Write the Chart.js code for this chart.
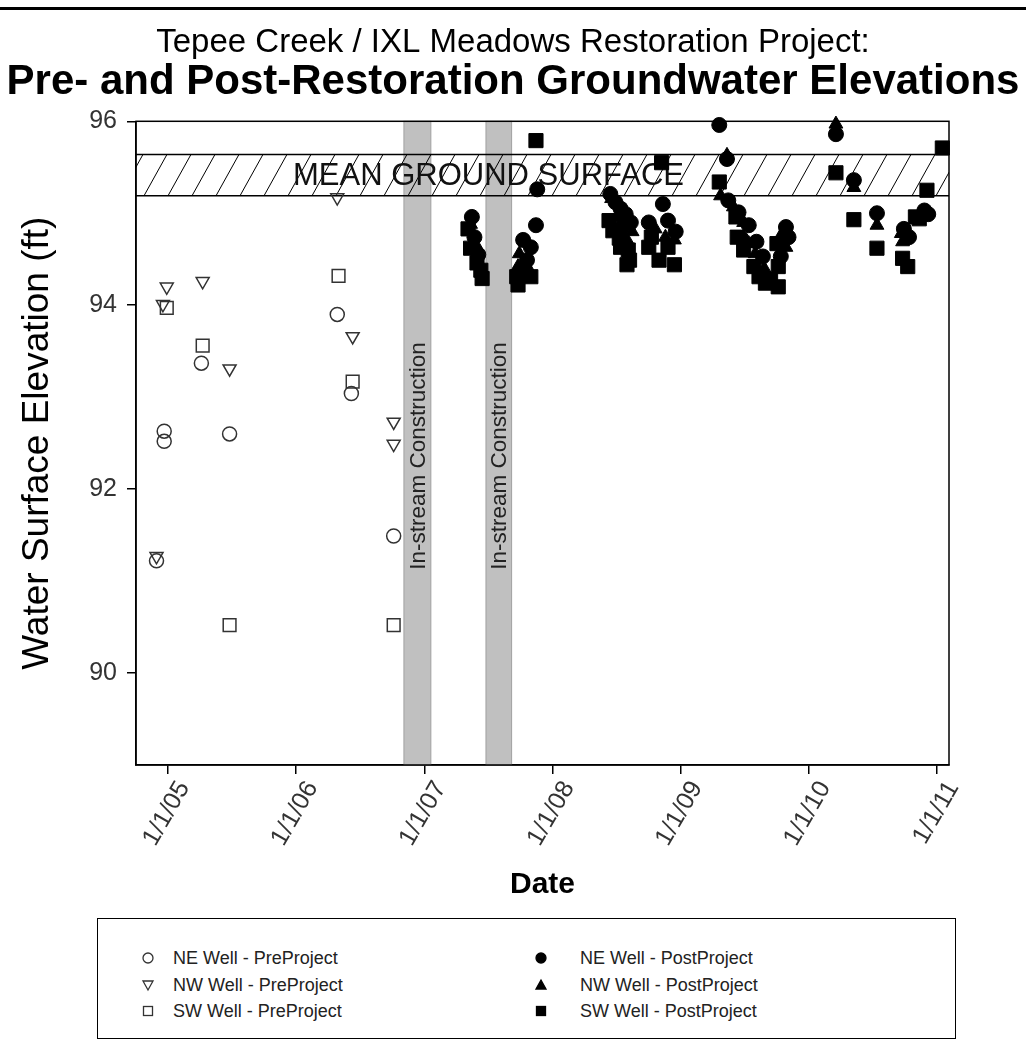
<!DOCTYPE html>
<html>
<head>
<meta charset="utf-8">
<script src="https://cdn.jsdelivr.net/npm/chart.js@4.4.0/dist/chart.umd.min.js"></script>
<style>
  body { margin: 0; background: #fff; font-family: "Liberation Sans", Arial, sans-serif; }
  #wrap { position: relative; width: 1026px; height: 1045px; overflow: hidden; }
  #topline { position: absolute; left: 0; top: 7px; width: 1026px; border-top: 3px solid #000; }
  #chart { position: absolute; left: 0; top: 0; }
  #legend { position: absolute; left: 97px; top: 918px; width: 859px; height: 121px;
            border: 1.5px solid #000; box-sizing: border-box; }
  .item { position: absolute; font-size: 18px; color: #222; line-height: 20px; white-space: nowrap; }
  .item svg { position: absolute; top: 2px; }
</style>
</head>
<body>
<div id="wrap">
  <div id="topline"></div>
  <canvas id="chart" width="1026" height="910"></canvas>
  <div id="legend"></div>
</div>
<script>
// dates are decimal years, elevations in ft
const nePreDate = [2004.91, 2004.97, 2004.97, 2005.26, 2005.48, 2006.32, 2006.43, 2006.76];
const nePreElev = [91.22, 92.63, 92.52, 93.37, 92.60, 93.90, 93.04, 91.49];
const nwPreDate = [2004.91, 2004.96, 2004.99, 2005.27, 2005.48, 2006.32, 2006.44, 2006.76, 2006.76];
const nwPreElev = [91.27, 94.01, 94.20, 94.26, 93.31, 95.17, 93.66, 92.73, 92.49];
const swPreDate = [2004.99, 2005.27, 2005.48, 2006.33, 2006.44, 2006.76];
const swPreElev = [93.97, 93.56, 90.52, 94.32, 93.17, 90.52];

const nePostDate = [2007.37, 2007.39, 2007.42, 2007.77, 2007.80, 2007.83, 2007.87, 2007.88,
  2008.45, 2008.49, 2008.53, 2008.57, 2008.61, 2008.54, 2008.86, 2008.75, 2008.90, 2008.96,
  2009.30, 2009.36, 2009.37, 2009.45, 2009.53, 2009.47, 2009.59, 2009.64, 2009.82, 2009.84, 2009.78,
  2010.21, 2010.35, 2010.53, 2010.74, 2010.78, 2010.90, 2010.93];
const nePostElev = [94.96, 94.74, 94.55, 94.71, 94.49, 94.63, 94.87, 95.26,
  95.21, 95.12, 95.05, 94.99, 94.90, 94.85, 95.10, 94.90, 94.92, 94.80,
  95.96, 95.59, 95.14, 95.01, 94.87, 94.73, 94.69, 94.53, 94.85, 94.74, 94.53,
  95.86, 95.36, 95.00, 94.83, 94.74, 95.03, 94.99];
const nwPostDate = [2007.36, 2007.40, 2007.43, 2007.74, 2007.81, 2007.73,
  2008.46, 2008.51, 2008.62, 2008.58, 2008.80, 2008.88, 2008.95,
  2009.36, 2009.31, 2009.41, 2009.49, 2009.53, 2009.58, 2009.65, 2009.79, 2009.82,
  2010.21, 2010.35, 2010.53, 2010.72, 2010.73, 2010.88];
const nwPostElev = [94.88, 94.66, 94.45, 94.56, 94.40, 94.42,
  95.16, 94.95, 94.80, 94.71, 94.83, 94.74, 94.71,
  95.63, 95.19, 95.07, 94.90, 94.67, 94.56, 94.40, 94.78, 94.63,
  95.97, 95.28, 94.87, 94.78, 94.69, 94.97];
const swPostDate = [2007.34, 2007.36, 2007.41, 2007.44, 2007.45, 2007.72, 2007.73, 2007.83, 2007.78, 2007.87,
  2008.44, 2008.47, 2008.52, 2008.53, 2008.59, 2008.60, 2008.58, 2008.85, 2008.77, 2008.75, 2008.90, 2008.83, 2008.95,
  2009.30, 2009.43, 2009.44, 2009.49, 2009.57, 2009.61, 2009.70, 2009.76, 2009.66, 2009.75, 2009.76,
  2010.21, 2010.35, 2010.53, 2010.73, 2010.77, 2010.83, 2010.86, 2010.92, 2011.04];
const swPostElev = [94.83, 94.62, 94.46, 94.38, 94.29, 94.31, 94.22, 94.31, 94.36, 95.79,
  94.92, 94.81, 94.73, 94.63, 94.60, 94.49, 94.44, 95.55, 94.74, 94.63, 94.63, 94.49, 94.44,
  95.34, 94.96, 94.74, 94.60, 94.42, 94.31, 94.28, 94.20, 94.24, 94.67, 94.42,
  95.44, 94.93, 94.62, 94.51, 94.42, 94.96, 94.94, 95.25, 95.71];

const yearTicks = [2005, 2006, 2007, 2008, 2009, 2010, 2011];
const elevTicks = [90, 92, 94, 96];
const groundSurface = [95.19, 95.64];
const constructionPeriods = [[2006.84, 2007.05], [2007.48, 2007.68]];

const FONT = '"Liberation Sans", Arial, sans-serif';

function pts(xs, ys) {
  return xs.map((x, i) => ({ x: x, y: ys[i] }));
}

const series = [
  { label: 'NE Well - PreProject', data: pts(nePreDate, nePreElev), shape: 'circle', filled: false, r: 7 },
  { label: 'NW Well - PreProject', data: pts(nwPreDate, nwPreElev), shape: 'triangle', filled: false, r: 7.5, rot: 180 },
  { label: 'SW Well - PreProject', data: pts(swPreDate, swPreElev), shape: 'rect', filled: false, r: 9 },
  { label: 'NE Well - PostProject', data: pts(nePostDate, nePostElev), shape: 'circle', filled: true, r: 7.5 },
  { label: 'NW Well - PostProject', data: pts(nwPostDate, nwPostElev), shape: 'triangle', filled: true, r: 8 },
  { label: 'SW Well - PostProject', data: pts(swPostDate, swPostElev), shape: 'rect', filled: true, r: 10 }
];

const backdrop = {
  id: 'backdrop',
  beforeDatasetsDraw(chart) {
    const { ctx, chartArea: a, scales: { x, y } } = chart;
    ctx.save();
    // in-stream construction periods
    constructionPeriods.forEach(([s, e]) => {
      const x0 = x.getPixelForValue(s), x1 = x.getPixelForValue(e);
      ctx.fillStyle = '#c0c0c0';
      ctx.fillRect(x0, a.top, x1 - x0, a.bottom - a.top);
      ctx.strokeStyle = '#a0a0a0';
      ctx.lineWidth = 1;
      ctx.strokeRect(x0, a.top, x1 - x0, a.bottom - a.top);
      ctx.save();
      ctx.translate((x0 + x1) / 2, y.getPixelForValue(92.36));
      ctx.rotate(-Math.PI / 2);
      ctx.fillStyle = '#222';
      ctx.font = '22.5px ' + FONT;
      ctx.textAlign = 'center';
      ctx.textBaseline = 'middle';
      ctx.fillText('In-stream Construction', 0, 1);
      ctx.restore();
    });
    // mean ground surface band
    const yt = y.getPixelForValue(groundSurface[1]);
    const yb = y.getPixelForValue(groundSurface[0]);
    ctx.save();
    ctx.beginPath();
    ctx.rect(a.left, yt, a.right - a.left, yb - yt);
    ctx.clip();
    ctx.strokeStyle = '#000';
    ctx.lineWidth = 1;
    ctx.beginPath();
    for (let px = a.left - 40; px < a.right + 40; px += 24) {
      ctx.moveTo(px, yb);
      ctx.lineTo(px + 23, yt);
    }
    ctx.stroke();
    ctx.restore();
    ctx.strokeStyle = '#000';
    ctx.lineWidth = 1.5;
    ctx.beginPath();
    ctx.moveTo(a.left, yt); ctx.lineTo(a.right, yt);
    ctx.moveTo(a.left, yb); ctx.lineTo(a.right, yb);
    ctx.stroke();
    ctx.fillStyle = '#111';
    ctx.font = '31px ' + FONT;
    ctx.textAlign = 'center';
    ctx.textBaseline = 'middle';
    ctx.fillText('MEAN GROUND SURFACE', x.getPixelForValue(2007.5), (yt + yb) / 2 + 1);
    ctx.restore();
  },
  afterDraw(chart) {
    const { ctx, chartArea: a } = chart;
    ctx.save();
    ctx.strokeStyle = '#000';
    ctx.lineWidth = 1.5;
    ctx.strokeRect(a.left, a.top, a.right - a.left, a.bottom - a.top);
    ctx.restore();
  }
};

new Chart(document.getElementById('chart'), {
  type: 'scatter',
  data: {
    datasets: series.map(s => ({
      label: s.label,
      data: s.data,
      pointStyle: s.shape,
      pointRadius: s.r,
      pointRotation: s.rot || 0,
      pointBorderWidth: s.filled ? 1 : 1.5,
      borderColor: s.filled ? '#000' : '#333',
      backgroundColor: s.filled ? '#000' : 'rgba(0,0,0,0)',
      clip: 6
    }))
  },
  options: {
    responsive: false,
    animation: false,
    devicePixelRatio: 1,
    layout: { padding: 0 },
    plugins: {
      legend: { display: false },
      tooltip: { enabled: false },
      title: {
        display: true,
        text: 'Tepee Creek / IXL Meadows Restoration Project:',
        color: '#000',
        font: { family: FONT, size: 33, weight: 'normal', lineHeight: 1.1 },
        padding: { top: 25, bottom: 0 }
      },
      subtitle: {
        display: true,
        text: 'Pre- and Post-Restoration Groundwater Elevations',
        color: '#000',
        font: { family: FONT, size: 42, weight: 'bold', lineHeight: 1.0 },
        padding: { top: 0, bottom: 18 }
      }
    },
    scales: {
      x: {
        type: 'linear',
        min: 2004.75,
        max: 2011.092,
        afterBuildTicks: (scale) => { scale.ticks = yearTicks.map(v => ({ value: v })); },
        afterFit: (scale) => { scale.height = 145; },
        ticks: {
          callback: (v) => '1/1/' + String(v).slice(2),
          minRotation: 60,
          maxRotation: 60,
          padding: 2,
          labelOffset: 16,
          color: '#333',
          font: { family: FONT, size: 25 }
        },
        grid: { drawOnChartArea: false, drawTicks: true, tickLength: 9, color: '#000', lineWidth: 1.5 },
        border: { display: true, color: '#000', width: 1.5 },
        title: {
          display: true,
          text: 'Date',
          color: '#000',
          font: { family: FONT, size: 30, weight: 'bold' },
          padding: { top: 0, bottom: 7 }
        }
      },
      y: {
        min: 89,
        max: 96,
        afterBuildTicks: (scale) => { scale.ticks = elevTicks.map(v => ({ value: v })); },
        afterFit: (scale) => { scale.width = 136; },
        ticks: {
          padding: 10,
          color: '#333',
          font: { family: FONT, size: 25 }
        },
        grid: { drawOnChartArea: false, drawTicks: true, tickLength: 9, color: '#000', lineWidth: 1.5 },
        border: { display: true, color: '#000', width: 1.5 },
        title: {
          display: true,
          text: 'Water Surface Elevation (ft)',
          color: '#000',
          font: { family: FONT, size: 37, weight: 'normal', lineHeight: 1.2 },
          padding: { top: 16, bottom: 0 }
        }
      },
      // empty right-hand strip so the titles centre on the whole page
      yRight: {
        position: 'right',
        display: true,
        afterFit: (scale) => { scale.width = 77; },
        ticks: { display: false },
        grid: { display: false },
        border: { display: false }
      }
    }
  },
  plugins: [backdrop]
});

// legend box: left column pre-project, right column post-project
function marker(s) {
  const fill = s.filled ? '#000' : 'none';
  const stroke = s.filled ? '#000' : '#333';
  let shape;
  if (s.shape === 'circle') shape = `<circle cx="7" cy="8" r="5" fill="${fill}" stroke="${stroke}" stroke-width="1.3"/>`;
  else if (s.shape === 'rect') shape = `<rect x="2.5" y="3.5" width="9" height="9" fill="${fill}" stroke="${stroke}" stroke-width="1.3"/>`;
  else if (s.rot) shape = `<polygon points="2,4 12,4 7,13" fill="${fill}" stroke="${stroke}" stroke-width="1.3"/>`;
  else shape = `<polygon points="2,12 12,12 7,3" fill="${fill}" stroke="${stroke}" stroke-width="1.3"/>`;
  return `<svg width="14" height="16" viewBox="0 0 14 16">${shape}</svg>`;
}
const legendEl = document.getElementById('legend');
series.forEach((s, i) => {
  const col = Math.floor(i / 3), row = i % 3;
  const el = document.createElement('div');
  el.className = 'item';
  el.style.left = (col ? 436 : 43) + 'px';
  el.style.top = (29 + row * 26.5) + 'px';
  el.innerHTML = marker(s) + `<span style="margin-left:${col ? 46 : 32}px">${s.label}</span>`;
  legendEl.appendChild(el);
});
</script>
</body>
</html>
